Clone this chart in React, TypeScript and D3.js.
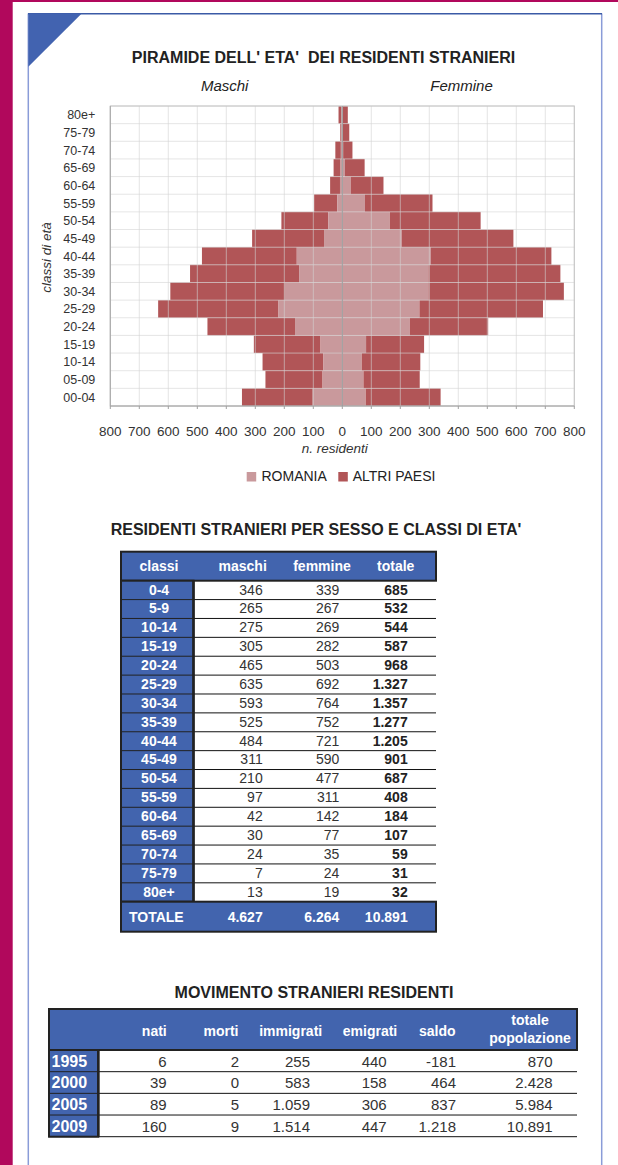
import React from 'react';
import * as d3 from 'd3';

// pyramid data (top of chart = last item)
const ageGroups = ['00-04', '05-09', '10-14', '15-19', '20-24', '25-29', '30-34', '35-39', '40-44', '45-49', '50-54', '55-59', '60-64', '65-69', '70-74', '75-79', '80e+'];
const maschi = [346, 265, 275, 305, 465, 635, 593, 525, 484, 311, 210, 97, 42, 30, 24, 7, 13];
const femmine = [339, 267, 269, 282, 503, 692, 764, 752, 721, 590, 477, 311, 142, 77, 35, 24, 19];
// Romania share
const romaniaM = [102, 68, 65, 75, 163, 220, 198, 149, 157, 63, 48, 17, 8, 6, 5, 3, 4];
const romaniaF = [81, 73, 67, 82, 233, 266, 297, 297, 305, 205, 164, 78, 29, 9, 3, 2, 2];
const xTicks = [-800, -700, -600, -500, -400, -300, -200, -100, 0, 100, 200, 300, 400, 500, 600, 700, 800];

// table 1
const classi = ['0-4', '5-9', '10-14', '15-19', '20-24', '25-29', '30-34', '35-39', '40-44', '45-49', '50-54', '55-59', '60-64', '65-69', '70-74', '75-79', '80e+'];
const totali = [685, 532, 544, 587, 968, 1327, 1357, 1277, 1205, 901, 687, 408, 184, 107, 59, 31, 32];
const totaleRow = [4627, 6264, 10891];

// table 2
const anni = ['1995', '2000', '2005', '2009'];
const nati = [6, 39, 89, 160];
const morti = [2, 0, 5, 9];
const immigrati = [255, 583, 1059, 1514];
const emigrati = [440, 158, 306, 447];
const saldo = [-181, 464, 837, 1218];
const totalePop = [870, 2428, 5984, 10891];

const FONT = '"Liberation Sans", Arial, sans-serif';
const C_ROM = '#c9999c';
const C_ALT = '#b15557';
const BLUE = '#4264ae';
const DARK = '#222';

const fmt = d3.formatLocale({ decimal: ',', thousands: '.', grouping: [3], currency: ['€', ''], minus: '-' }).format(',d');

function Pyramid() {
  const x = d3.scaleLinear().domain([-800, 800]).range([110.3, 574.3]);
  const y = d3.scaleBand<string>().domain([...ageGroups].reverse()).range([106, 406]).padding(0);
  const bw = y.bandwidth();

  return (
    <g fontFamily={FONT}>
      <text x={323.5} y={63.3} textAnchor="middle" fontSize={16} fontWeight="bold" fill="#222" style={{ whiteSpace: 'pre' }}>
        {"PIRAMIDE DELL' ETA'  DEI RESIDENTI STRANIERI"}
      </text>
      <text x={224.7} y={91} textAnchor="middle" fontSize={15} fontStyle="italic" fill="#222">Maschi</text>
      <text x={461.5} y={91} textAnchor="middle" fontSize={15} fontStyle="italic" fill="#222">Femmine</text>

      {/* bars */}
      {ageGroups.map((a, i) => (
        <g key={a}>
          <rect x={x(-maschi[i])} y={y(a)} width={x(-romaniaM[i]) - x(-maschi[i])} height={bw} fill={C_ALT} />
          <rect x={x(-romaniaM[i])} y={y(a)} width={x(0) - x(-romaniaM[i])} height={bw} fill={C_ROM} />
          <rect x={x(0)} y={y(a)} width={x(romaniaF[i]) - x(0)} height={bw} fill={C_ROM} />
          <rect x={x(romaniaF[i])} y={y(a)} width={x(femmine[i]) - x(romaniaF[i])} height={bw} fill={C_ALT} />
        </g>
      ))}

      {/* grid on top */}
      {xTicks.map((t) => (
        <line key={'v' + t} x1={x(t)} x2={x(t)} y1={106} y2={406} stroke="#d4d4d4" strokeOpacity={0.6} />
      ))}
      {ageGroups.map((a) => (
        <line key={'h' + a} x1={110.3} x2={574.3} y1={y(a)} y2={y(a)} stroke="#d4d4d4" strokeOpacity={0.6} />
      ))}
      <rect x={110.3} y={106} width={464} height={300} fill="none" stroke="#c4c4c4" />
      <line x1={110.3} x2={110.3} y1={106} y2={406} stroke="#a8a8a8" />
      <line x1={110.3} x2={574.3} y1={406} y2={406} stroke="#a0a0a0" />
      <line x1={x(0)} x2={x(0)} y1={106} y2={406} stroke="#9a9a9a" />
      {xTicks.map((t) => (
        <line key={'t' + t} x1={x(t)} x2={x(t)} y1={406} y2={409} stroke="#a0a0a0" />
      ))}

      {/* axes labels */}
      {xTicks.map((t) => (
        <text key={'l' + t} x={x(t)} y={436} textAnchor="middle" fontSize={13.5} fill="#333">{Math.abs(t)}</text>
      ))}
      {ageGroups.map((a) => (
        <text key={'y' + a} x={95.3} y={(y(a) as number) + bw / 2 + 4.5} textAnchor="end" fontSize={12.5} fill="#333">{a}</text>
      ))}
      <text transform="translate(51.3,257.5) rotate(-90)" textAnchor="middle" fontSize={13.5} fontStyle="italic" fill="#333">classi di età</text>
      <text x={334.7} y={452.7} textAnchor="middle" fontSize={13.5} fontStyle="italic" fill="#333">n. residenti</text>

      {/* legend */}
      <rect x={246.7} y={472} width={9.5} height={9.5} fill={C_ROM} />
      <text x={261.5} y={481} fontSize={14} fill="#222">ROMANIA</text>
      <rect x={338.3} y={472} width={9.5} height={9.5} fill={C_ALT} />
      <text x={352.7} y={481} fontSize={14} fill="#222">ALTRI PAESI</text>
    </g>
  );
}

function TableSesso() {
  const L = 121, R = 436, CR = 193.5;
  const top = 551.7, hb = 580.7;
  const rows = d3.scaleBand<string>().domain(classi).range([hb, 901.7]);
  const rh = rows.bandwidth();
  const cols = [262.7, 339.3, 407.7];

  return (
    <g fontFamily={FONT} fontSize={14}>
      <text x={316} y={535} textAnchor="middle" fontSize={16} fontWeight="bold" fill="#222">
        RESIDENTI STRANIERI PER SESSO E CLASSI DI ETA'
      </text>
      {/* header */}
      <rect x={L} y={top} width={R - L} height={hb - top} fill={BLUE} stroke={DARK} strokeWidth={2} />
      <g fill="#fff" fontWeight="bold" textAnchor="middle">
        <text x={159} y={571}>classi</text>
        <text x={242.7} y={571}>maschi</text>
        <text x={322} y={571}>femmine</text>
        <text x={395.7} y={571}>totale</text>
      </g>
      {/* class column */}
      <rect x={L} y={hb} width={CR - L} height={rows.range()[1] - hb} fill={BLUE} stroke={DARK} strokeWidth={2} />
      {classi.map((c, i) => (
        <g key={c}>
          <line x1={L} x2={CR} y1={(rows(c) as number) + rh} y2={(rows(c) as number) + rh} stroke={DARK} strokeWidth={1} />
          <line x1={CR} x2={R} y1={(rows(c) as number) + rh} y2={(rows(c) as number) + rh} stroke="#111" strokeWidth={1} />
          <text x={159} y={(rows(c) as number) + 13.8} textAnchor="middle" fill="#fff" fontWeight="bold">{c}</text>
          <text x={cols[0]} y={(rows(c) as number) + 13.8} textAnchor="end" fill="#333">{fmt(maschi[i])}</text>
          <text x={cols[1]} y={(rows(c) as number) + 13.8} textAnchor="end" fill="#333">{fmt(femmine[i])}</text>
          <text x={cols[2]} y={(rows(c) as number) + 13.8} textAnchor="end" fill="#222" fontWeight="bold">{fmt(totali[i])}</text>
        </g>
      ))}
      <line x1={CR} x2={CR} y1={hb} y2={901.7} stroke={DARK} strokeWidth={2.5} />
      {/* total row */}
      <rect x={L} y={901.7} width={R - L} height={30} fill={BLUE} stroke={DARK} strokeWidth={2} />
      <g fill="#fff" fontWeight="bold">
        <text x={129} y={921.5}>TOTALE</text>
        {totaleRow.map((v, i) => (
          <text key={i} x={cols[i]} y={921.5} textAnchor="end">{fmt(v)}</text>
        ))}
      </g>
    </g>
  );
}

function TableMovimento() {
  const L = 49, R = 577, CR = 98.3;
  const top = 1009, hb = 1050;
  const rows = d3.scaleBand<string>().domain(anni).range([hb, 1136.7]);
  const rh = rows.bandwidth();
  const series = [nati, morti, immigrati, emigrati, saldo, totalePop];
  const rights = [166.7, 239, 310, 386.7, 456, 552.7];

  return (
    <g fontFamily={FONT}>
      <text x={314} y={998} textAnchor="middle" fontSize={16} fontWeight="bold" fill="#222">
        MOVIMENTO STRANIERI RESIDENTI
      </text>
      <rect x={L} y={top} width={R - L} height={hb - top} fill={BLUE} stroke={DARK} strokeWidth={2} />
      <g fill="#fff" fontWeight="bold" fontSize={14} textAnchor="middle">
        <text x={154.3} y={1035.5}>nati</text>
        <text x={221} y={1035.5}>morti</text>
        <text x={290.7} y={1035.5}>immigrati</text>
        <text x={370} y={1035.5}>emigrati</text>
        <text x={437.3} y={1035.5}>saldo</text>
        <text x={530} y={1025}>totale</text>
        <text x={530} y={1043.3}>popolazione</text>
      </g>
      <rect x={L} y={hb} width={CR - L} height={1136.7 - hb} fill={BLUE} stroke={DARK} strokeWidth={2} />
      {anni.map((a, i) => (
        <g key={a}>
          <line x1={L} x2={CR} y1={(rows(a) as number) + rh} y2={(rows(a) as number) + rh} stroke={DARK} />
          <line x1={CR} x2={R} y1={(rows(a) as number) + rh} y2={(rows(a) as number) + rh} stroke="#111" />
          <text x={51.5} y={(rows(a) as number) + 16.7} fill="#fff" fontWeight="bold" fontSize={16}>{a}</text>
          {series.map((s, j) => (
            <text key={j} x={rights[j]} y={(rows(a) as number) + 16.7} textAnchor="end" fontSize={15} fill="#333">{fmt(s[i])}</text>
          ))}
        </g>
      ))}
      <line x1={CR} x2={CR} y1={hb} y2={1136.7} stroke={DARK} strokeWidth={2.5} />
    </g>
  );
}

export default function App() {
  return (
    <svg width={618} height={1165} style={{ position: 'absolute', left: 0, top: 0, display: 'block', background: '#fff' }}>
      {/* page frame */}
      <rect x={0} y={0} width={618} height={2} fill="#b1085c" />
      <rect x={0} y={0} width={12.7} height={1165} fill="#b1085c" />
      <line x1={28.3} x2={28.3} y1={13.5} y2={1165} stroke="#8a9cd8" strokeWidth={1.5} />
      <line x1={601.7} x2={601.7} y1={13.5} y2={1165} stroke="#8a9cd8" strokeWidth={1.5} />
      <line x1={28} x2={602} y1={13.8} y2={13.8} stroke="#3b5aa6" strokeWidth={1.5} />
      <path d="M28.3,13.5 L81.7,13.5 L28.3,66.7 Z" fill="#4263b0" />

      <Pyramid />
      <TableSesso />
      <TableMovimento />
    </svg>
  );
}
